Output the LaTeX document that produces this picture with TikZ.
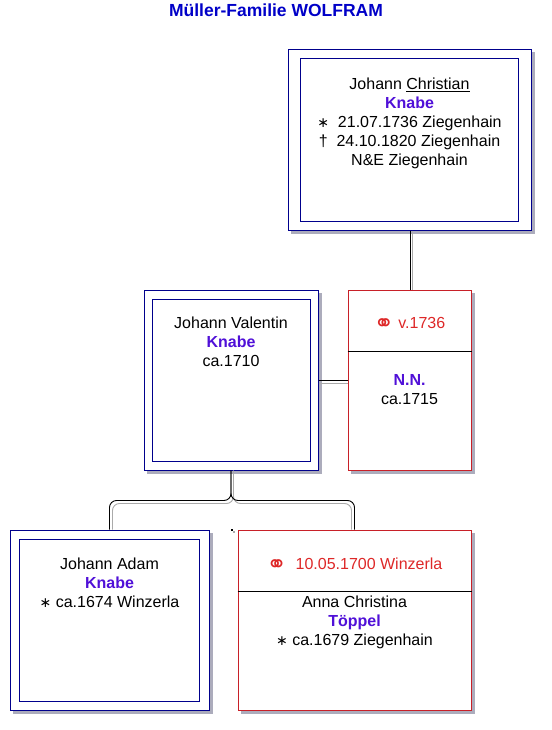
\documentclass[tikz,border=0pt]{standalone}
\usepackage{fontspec}
\setmainfont{Liberation Sans}
\newfontfamily\symfont{DejaVu Sans}
\usepackage{xcolor}
\usetikzlibrary{positioning,calc,shadows}
\definecolor{famblue}{RGB}{0,0,200}
\definecolor{knabeblue}{RGB}{80,16,216}
\definecolor{boxnavy}{RGB}{0,0,140}
\definecolor{boxred}{RGB}{200,32,40}
\definecolor{weddred}{RGB}{222,40,40}
\definecolor{shade}{RGB}{172,172,188}
\definecolor{linkgray}{RGB}{170,170,170}
\newcommand{\surname}[1]{{\bfseries\color{knabeblue}#1}}
\newcommand{\born}{{\symfont\fontsize{14}{14}\selectfont ∗}}
\newcommand{\wed}{\raisebox{-3pt}[0pt][0pt]{\symfont\fontsize{24}{24}\selectfont ⚭}}
\tikzset{
  person/.style={draw=boxnavy, line width=1pt, fill=white, minimum height=180pt, inner sep=0pt,
    copy shadow={shadow xshift=3pt, shadow yshift=-3pt, draw=shade, fill=shade}},
  couple/.style={draw=boxred, line width=1pt, fill=white, minimum height=180pt, inner sep=0pt,
    copy shadow={shadow xshift=3pt, shadow yshift=-3pt, draw=shade, fill=shade}},
  inbox/.style={draw=boxnavy, line width=1pt, minimum height=162pt, inner sep=0pt},
  txt/.style={align=center, inner sep=0pt, font=\fontsize{16}{19}\selectfont},
  link/.style={draw=black, line width=0.9pt},
  linkshade/.style={draw=linkgray, line width=0.9pt}
}

\begin{document}
\begin{tikzpicture}[x=1pt,y=-1pt]
\path[use as bounding box, fill=white] (0,0) rectangle (551,730);

\node[font=\fontsize{17.5}{21}\selectfont\bfseries, text=famblue, inner sep=0pt] (title) at (276,10.5) {Müller-Familie WOLFRAM};

% generation 1
\node[person, minimum width=243pt] (christian) at (409.5,140) {};
\node[inbox, minimum width=218pt] (christianin) at (christian) {};
\node[txt, below=28pt of christian.north] (christiantxt) {Johann \underline{Christian}\\ \surname{Knabe}\\
  \born\ \ 21.07.1736 Ziegenhain\\ †\ \ 24.10.1820 Ziegenhain\\ N\&E Ziegenhain};

% generation 2
\node[person, minimum width=174pt] (valentin) at (231,380) {};
\node[inbox, minimum width=158pt] (valentinin) at (valentin) {};
\node[txt, below=27.5pt of valentin.north] (valentintxt) {Johann Valentin\\ \surname{Knabe}\\ ca.1710};

\node[couple, minimum width=123pt] (nn) at (409.5,380) {};
\coordinate (nnsplit) at ([yshift=-62pt]nn.north);
\draw[link] ([yshift=-62pt]nn.north west) -- ([yshift=-62pt]nn.north east);
\node[txt, text=weddred] (nnwed) at ([yshift=-33pt]nn.north) {\wed\ v.1736};
\node[txt, below=23pt of nnsplit] (nntxt) {\surname{N.N.}\\ ca.1715};

% generation 3
\node[person, minimum width=199pt] (adam) at (109.5,620) {};
\node[inbox, minimum width=180pt] (adamin) at (adam) {};
\node[txt, below=28pt of adam.north] (adamtxt) {Johann Adam\\ \surname{Knabe}\\ \born\ ca.1674 Winzerla};

\node[couple, minimum width=233pt] (anna) at (354.5,620) {};
\coordinate (annasplit) at ([yshift=-62pt]anna.north);
\draw[link] ([yshift=-62pt]anna.north west) -- ([yshift=-62pt]anna.north east);
\node[txt, text=weddred] (annawed) at ([yshift=-34pt]anna.north) {\wed\ \ 10.05.1700 Winzerla};
\node[txt, below=4pt of annasplit] (annatxt) {Anna Christina\\ \surname{Töppel}\\ \born\ ca.1679 Ziegenhain};

% connectors
\draw[linkshade] ([xshift=3pt]christian.south) -- ([xshift=3pt]nn.north);
\draw[link] ([xshift=1pt]christian.south) -- ([xshift=1pt]nn.north);
\draw[linkshade] ([yshift=-3pt]valentin.east) -- ([yshift=-3pt]nn.west);
\draw[link] (valentin.east) -- (nn.west);

\draw[linkshade, rounded corners=7pt] ([xshift=2.5pt]valentin.south) -- ++(0,33) -| ([xshift=3pt]adam.north);
\draw[linkshade, rounded corners=7pt] ([xshift=2.5pt]valentin.south) -- ++(0,33) -| ([xshift=-3pt]anna.north);
\draw[link, rounded corners=7pt] (valentin.south) -- ++(0,30) -| (adam.north);
\draw[link, rounded corners=7pt] (valentin.south) -- ++(0,30) -| (anna.north);

\coordinate (stray) at (231,529);
\fill[linkgray] ($(stray)+(2,2)$) rectangle ++(2,2);
\fill[black] (stray) rectangle ++(2,2);
\end{tikzpicture}
\end{document}
